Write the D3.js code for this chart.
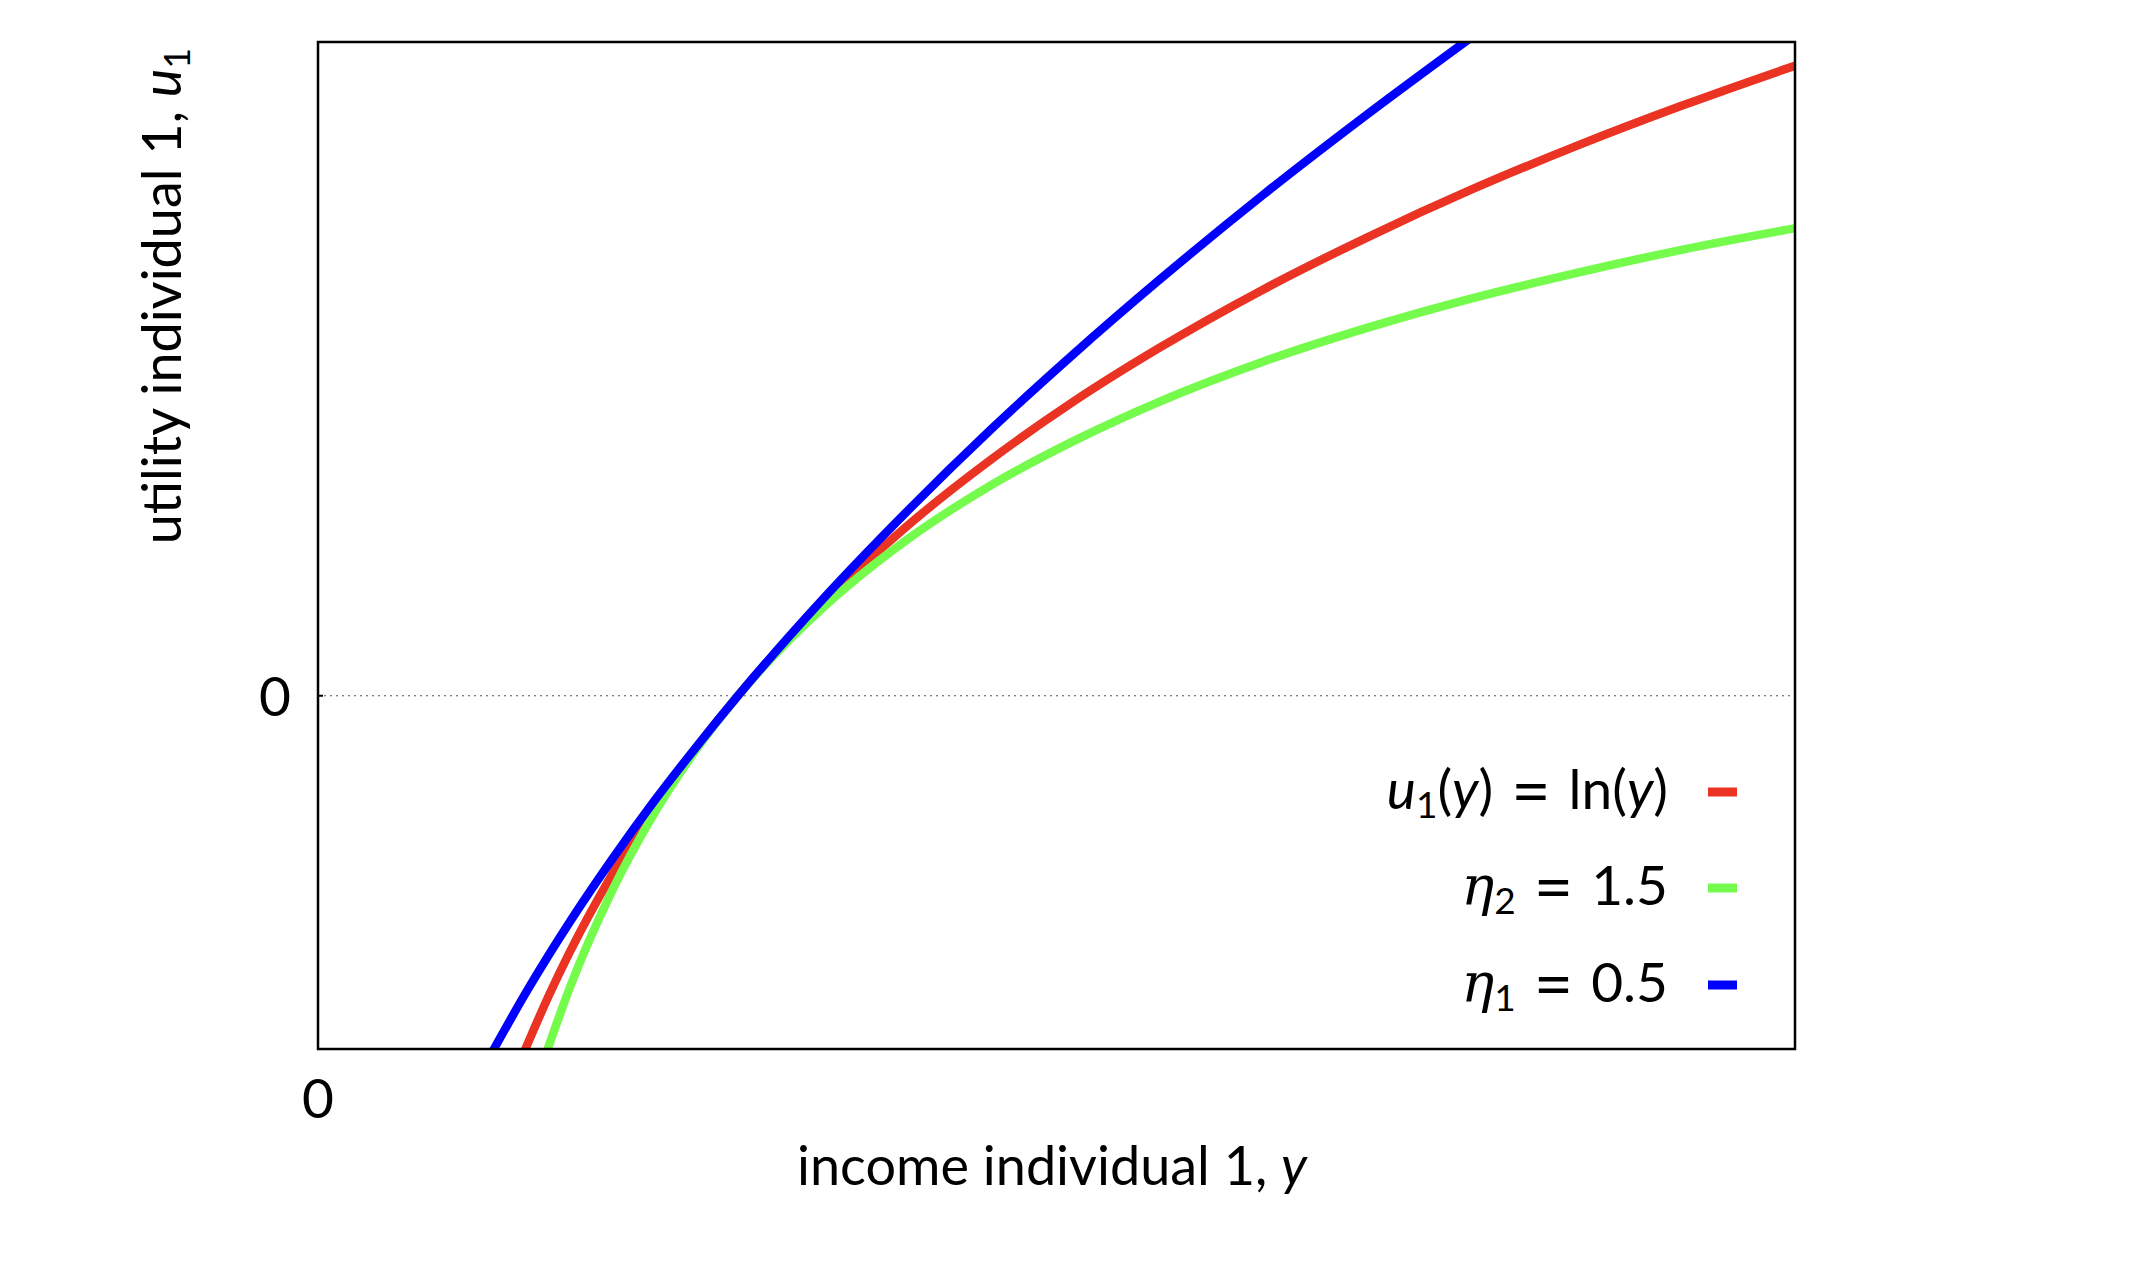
<!DOCTYPE html>
<html>
<head>
<meta charset="utf-8">
<script src="https://cdn.jsdelivr.net/npm/d3@7"></script>
<style>
  body { margin: 0; background: #fff; }
  svg { display: block; font-family: Lato, "Liberation Sans", sans-serif; }
</style>
</head>
<body>
<svg width="2136" height="1266"></svg>
<script>
// values
const lnX = [0.49, 0.55, 0.6, 0.7, 0.8, 0.9, 1.0, 1.2, 1.4, 1.6, 1.8, 2.0, 2.25, 2.5, 2.75, 3.0, 3.25, 3.52];
const lnU = [-0.713, -0.598, -0.511, -0.357, -0.223, -0.105, 0, 0.182, 0.337, 0.470, 0.588, 0.693, 0.811, 0.916, 1.012, 1.099, 1.179, 1.259];

const eta2X = [0.54, 0.6, 0.7, 0.8, 0.9, 1.0, 1.2, 1.4, 1.6, 1.8, 2.0, 2.25, 2.5, 2.75, 3.0, 3.25, 3.52];
const eta2U = [-0.722, -0.582, -0.390, -0.236, -0.108, 0, 0.174, 0.310, 0.419, 0.509, 0.586, 0.667, 0.735, 0.794, 0.845, 0.891, 0.934];

const eta1X = [0.41, 0.5, 0.6, 0.7, 0.8, 0.9, 1.0, 1.2, 1.4, 1.6, 1.8, 2.0, 2.25, 2.5, 2.74];
const eta1U = [-0.719, -0.586, -0.451, -0.327, -0.211, -0.103, 0, 0.191, 0.366, 0.530, 0.683, 0.828, 1.0, 1.162, 1.311];

const xTicks = [0];
const yTicks = [0];

const svg = d3.select("svg");
const plotL = 318, plotR = 1795, plotT = 42, plotB = 1049;

const x = d3.scaleLinear().domain([0, 3.517]).range([plotL, plotR]);
const y = d3.scaleLinear().domain([-0.7054, 1.3055]).range([plotB, plotT]);

// series in drawing order (same as legend order)
const series = [
    { xs: lnX, us: lnU, color: "#ea3323" },
    { xs: eta2X, us: eta2U, color: "#75fb4c" },
    { xs: eta1X, us: eta1U, color: "#0000ff" }
];

svg.append("clipPath").attr("id", "plotclip")
  .append("rect")
    .attr("x", plotL).attr("y", plotT)
    .attr("width", plotR - plotL).attr("height", plotB - plotT);

// zero line
svg.selectAll("line.zero")
  .data(yTicks)
  .enter().append("line")
    .attr("class", "zero")
    .attr("x1", plotL).attr("x2", plotR)
    .attr("y1", d => y(d)).attr("y2", d => y(d))
    .attr("stroke", "#555")
    .attr("stroke-width", 1.2)
    .attr("stroke-dasharray", "2,4");

// small tick on the left axis
svg.selectAll("line.ytick")
  .data(yTicks)
  .enter().append("line")
    .attr("class", "ytick")
    .attr("x1", plotL).attr("x2", plotL + 5)
    .attr("y1", d => y(d)).attr("y2", d => y(d))
    .attr("stroke", "#000").attr("stroke-width", 2);

const line = d3.line()
    .x(d => x(d[0]))
    .y(d => y(d[1]))
    .curve(d3.curveMonotoneX);

const g = svg.append("g").attr("clip-path", "url(#plotclip)");
series.forEach(s => {
    g.append("path")
        .datum(s.xs.map((v, i) => [v, s.us[i]]))
        .attr("fill", "none")
        .attr("stroke", s.color)
        .attr("stroke-width", 8.5)
        .attr("d", line);
});

// frame
svg.append("rect")
    .attr("x", plotL).attr("y", plotT)
    .attr("width", plotR - plotL).attr("height", plotB - plotT)
    .attr("fill", "none")
    .attr("stroke", "#000")
    .attr("stroke-width", 2.5);

// tick labels
svg.selectAll("text.ylab")
  .data(yTicks)
  .enter().append("text")
    .attr("class", "ylab")
    .attr("x", 275).attr("y", d => y(d) + 20)
    .attr("text-anchor", "middle")
    .attr("font-size", 55)
    .text(d => d);

svg.selectAll("text.xlab")
  .data(xTicks)
  .enter().append("text")
    .attr("class", "xlab")
    .attr("x", d => x(d)).attr("y", 1118)
    .attr("text-anchor", "middle")
    .attr("font-size", 55)
    .text(d => d);

// adds a list of [string, kind] pieces as tspans
function addParts(t, parts, subSize) {
    let shift = 0, prevKind = null;
    parts.forEach(([str, kind]) => {
        const sp = t.append("tspan").text(str);
        let dy = 0;
        if (kind === "italic") sp.attr("font-style", "italic");
        if (kind === "greek") sp.attr("font-style", "italic").attr("font-family", "'DejaVu Serif', serif");
        if (kind === "sub") {
            sp.attr("font-size", subSize);
            dy = 9;
        }
        if (kind === "eq") {
            // wide, low-sitting equals sign like the math font
            sp.attr("font-size", 68).attr("dx", 18);
            dy = 6;
        }
        if (prevKind === "eq") sp.attr("dx", 18);
        if (dy - shift !== 0) sp.attr("dy", dy - shift);
        shift = dy;
        prevKind = kind;
    });
}

// axis titles
const xt = svg.append("text")
    .attr("x", 1052).attr("y", 1185)
    .attr("text-anchor", "middle")
    .attr("font-size", 54);
addParts(xt, [["income individual 1, ", ""], ["y", "italic"]], 36);

const yt = svg.append("text")
    .attr("transform", "translate(181,296) rotate(-90)")
    .attr("text-anchor", "middle")
    .attr("font-size", 54);
addParts(yt, [["utility individual 1, ", ""], ["u", "italic"], ["1", "sub"]], 36);

// legend
const legendY = [792, 888, 985];
const legendLabels = [
    [["u", "italic"], ["1", "sub"], ["(", ""], ["y", "italic"], [")", ""], ["=", "eq"], ["ln(", ""], ["y", "italic"], [")", ""]],
    [["η", "greek"], ["2", "sub"], ["=", "eq"], ["1.5", ""]],
    [["η", "greek"], ["1", "sub"], ["=", "eq"], ["0.5", ""]]
];

legendLabels.forEach((parts, i) => {
    const t = svg.append("text")
        .attr("x", 1668).attr("y", legendY[i] + 17)
        .attr("text-anchor", "end")
        .attr("font-size", 55);
    addParts(t, parts, 37);
    svg.append("line")
        .attr("x1", 1708).attr("x2", 1737)
        .attr("y1", legendY[i]).attr("y2", legendY[i])
        .attr("stroke", series[i].color)
        .attr("stroke-width", 9);
});
</script>
</body>
</html>
